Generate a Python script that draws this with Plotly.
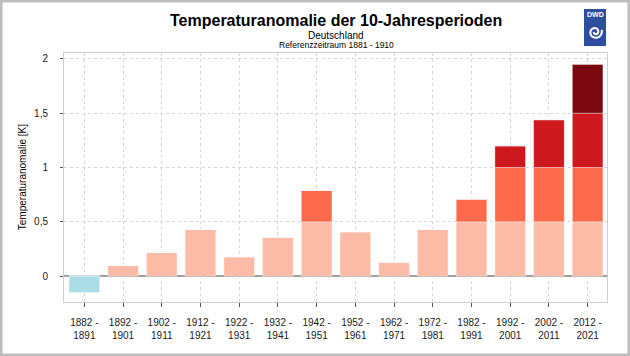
import numpy as np
import plotly.graph_objects as go

# ---------------- data ----------------
period_start = ["1882", "1892", "1902", "1912", "1922", "1932", "1942",
                "1952", "1962", "1972", "1982", "1992", "2002", "2012"]
period_end = ["1891", "1901", "1911", "1921", "1931", "1941", "1951",
              "1961", "1971", "1981", "1991", "2001", "2011", "2021"]
anomaly = [-0.15, 0.10, 0.22, 0.43, 0.18, 0.36, 0.79,
           0.41, 0.13, 0.43, 0.71, 1.20, 1.44, 1.95]
band_edges = [0.0, 0.5, 1.0, 1.5, 2.0]
band_colors = ["#FCBBA6", "#FC6A4B", "#CD181E", "#7B0811"]
neg_color = "#AADDE6"
y_tickvals = [0, 0.5, 1, 1.5, 2]
y_ticktext = ["0", "0,5", "1", "1,5", "2"]

# ---------------- geometry (pixels) ----------------
W, H = 630, 356
L, R, T, B = 64, 23, 53, 54
PW, PH = W - L - R, H - T - B


def px(x):
    return (x - L) / PW


def py(y):
    return (H - B - y) / PH


FONT = "Arial, Liberation Sans, sans-serif"

xpos = list(range(len(anomaly)))
ticklabels = [f"{a} -<br>{b}" for a, b in zip(period_start, period_end)]

fig = go.Figure()
outline = dict(color="rgba(255,255,255,0.45)", width=0.8)

for i, col in enumerate(band_colors):
    lo, hi = band_edges[i], band_edges[i + 1]
    seg = [max(0.0, min(v, hi) - lo) if v > 0 else 0.0 for v in anomaly]
    fig.add_trace(go.Bar(x=xpos, y=seg, marker=dict(color=col, line=outline),
                         width=0.79, hoverinfo="skip", showlegend=False))

neg = [v if v < 0 else 0.0 for v in anomaly]
fig.add_trace(go.Bar(x=xpos, y=neg, marker=dict(color=neg_color, line=outline),
                     width=0.79, hoverinfo="skip", showlegend=False))

# ---------------- decorations ----------------
shapes = []
# outer grey frame
shapes.append(dict(type="rect", xref="paper", yref="paper",
                   x0=px(1.3), x1=px(628.7), y0=py(1.3), y1=py(354.7),
                   line=dict(color="#BEBEBE", width=2.6), layer="above"))
# DWD logo box
shapes.append(dict(type="rect", xref="paper", yref="paper",
                   x0=px(584), x1=px(606), y0=py(46), y1=py(9),
                   fillcolor="#2C4F9F", line=dict(width=0), layer="above"))
# spiral of logo
cx, cy = 595.2, 32.0
th = np.linspace(0, 3.1 * np.pi, 60)
rr = 1.2 + 5.6 * th / th[-1]
sx = cx + rr * np.cos(th + np.pi)
sy = cy - rr * np.sin(th + np.pi)
path = "M " + " L ".join(f"{px(a):.5f},{py(b):.5f}" for a, b in zip(sx, sy))
shapes.append(dict(type="path", xref="paper", yref="paper", path=path,
                   line=dict(color="white", width=2.0), layer="above"))

annotations = [
    dict(text="<b>Temperaturanomalie der 10-Jahresperioden</b>", x=px(336), y=py(21),
         xref="paper", yref="paper", xanchor="center", yanchor="middle",
         showarrow=False, font=dict(family=FONT, size=16, color="#000")),
    dict(text="Deutschland", x=px(336), y=py(35),
         xref="paper", yref="paper", xanchor="center", yanchor="middle",
         showarrow=False, font=dict(family=FONT, size=10, color="#000")),
    dict(text="Referenzzeitraum 1881 - 1910", x=px(336), y=py(44.8),
         xref="paper", yref="paper", xanchor="center", yanchor="middle",
         showarrow=False, font=dict(family=FONT, size=8.5, color="#000")),
    dict(text="Temperaturanomalie [K]", x=px(22.7), y=0.5, textangle=-90,
         xref="paper", yref="paper", xanchor="center", yanchor="middle",
         showarrow=False, font=dict(family=FONT, size=10, color="#000")),
    dict(text="<b>DWD</b>", x=px(595), y=py(14.5),
         xref="paper", yref="paper", xanchor="center", yanchor="middle",
         showarrow=False, font=dict(family=FONT, size=7, color="white")),
]

fig.update_layout(
    width=W, height=H,
    margin=dict(l=L, r=R, t=T, b=B, pad=0),
    paper_bgcolor="white", plot_bgcolor="white",
    barmode="relative", bargap=0.21,
    shapes=shapes, annotations=annotations,
    font=dict(family=FONT, size=10, color="#1A1A1A"),
    showlegend=False,
)
fig.update_xaxes(
    range=[-0.525, 13.5], tickmode="array", tickvals=xpos, ticktext=ticklabels,
    showgrid=True, gridcolor="#D6D6D6", griddash="dot", gridwidth=1,
    showline=True, mirror=True, linecolor="#CFCFCF", linewidth=1,
    ticks="outside", ticklen=4, tickcolor="#555", tickwidth=1,
    ticklabelstandoff=7, tickfont=dict(family=FONT, size=10, color="#1A1A1A"),
    zeroline=False, fixedrange=True,
)
fig.update_yaxes(
    range=[-0.237, 2.053], tickmode="array", tickvals=y_tickvals, ticktext=y_ticktext,
    showgrid=True, gridcolor="#D6D6D6", griddash="dot", gridwidth=1,
    showline=True, mirror=True, linecolor="#CFCFCF", linewidth=1,
    ticks="outside", ticklen=3, tickcolor="#555", tickwidth=1,
    ticklabelstandoff=10, tickfont=dict(family=FONT, size=10, color="#1A1A1A"),
    zeroline=True, zerolinecolor="#A0A0A0", zerolinewidth=1.5, fixedrange=True,
)

fig.write_html(
    "out.html",
    config={"displayModeBar": False},
    post_script="document.body.style.margin='0';document.body.style.padding='0';",
)
